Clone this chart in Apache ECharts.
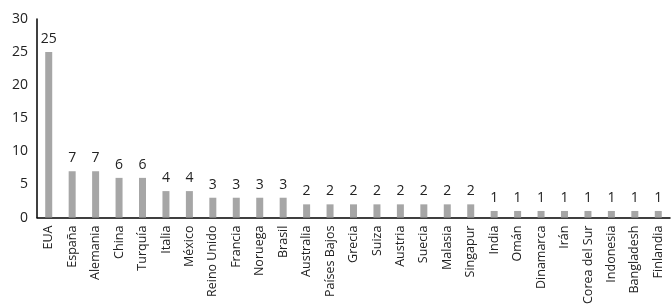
<!DOCTYPE html>
<html><head><meta charset="utf-8">
<script src="https://cdn.jsdelivr.net/npm/echarts@6/dist/echarts.min.js"></script>
<style>html,body{margin:0;padding:0;background:#fff}#c{width:672px;height:307px}</style>
</head><body><div id="c"></div>
<script>
const categories = ["EUA","España","Alemania","China","Turquía","Italia","México","Reino Unido","Francia","Noruega","Brasil","Australia","Países Bajos","Grecia","Suiza","Austria","Suecia","Malasia","Singapur","India","Omán","Dinamarca","Irán","Corea del Sur","Indonesia","Bangladesh","Finlandia"];
const values = [25,7,7,6,6,4,4,3,3,3,3,2,2,2,2,2,2,2,2,1,1,1,1,1,1,1,1];
const yTicks = [0,5,10,15,20,25,30];
const font = "'Open Sans', sans-serif";
const chart = echarts.init(document.getElementById('c'));
chart.setOption({
  animation:false,
  grid:{left:37,right:2,top:19,bottom:89,containLabel:false},
  xAxis:{type:'category',data:categories,
    axisLine:{lineStyle:{color:'#000',width:1.5}},axisTick:{show:false},
    axisLabel:{rotate:90,interval:0,color:'#222',fontFamily:font,fontSize:12.5,margin:8}},
  yAxis:{type:'value',min:0,max:30,interval:5,
    axisLine:{show:true,lineStyle:{color:'#000',width:1.5}},axisTick:{show:false},splitLine:{show:false},
    axisLabel:{color:'#222',fontFamily:font,fontSize:14,margin:9,
      formatter:v=>yTicks.includes(v)?String(v):''}},
  series:[{type:'bar',data:values,barWidth:7,itemStyle:{color:'#a6a6a6'},
    label:{show:true,position:'top',distance:6,color:'#222',fontFamily:font,fontSize:14}}]
});
</script></body></html>
